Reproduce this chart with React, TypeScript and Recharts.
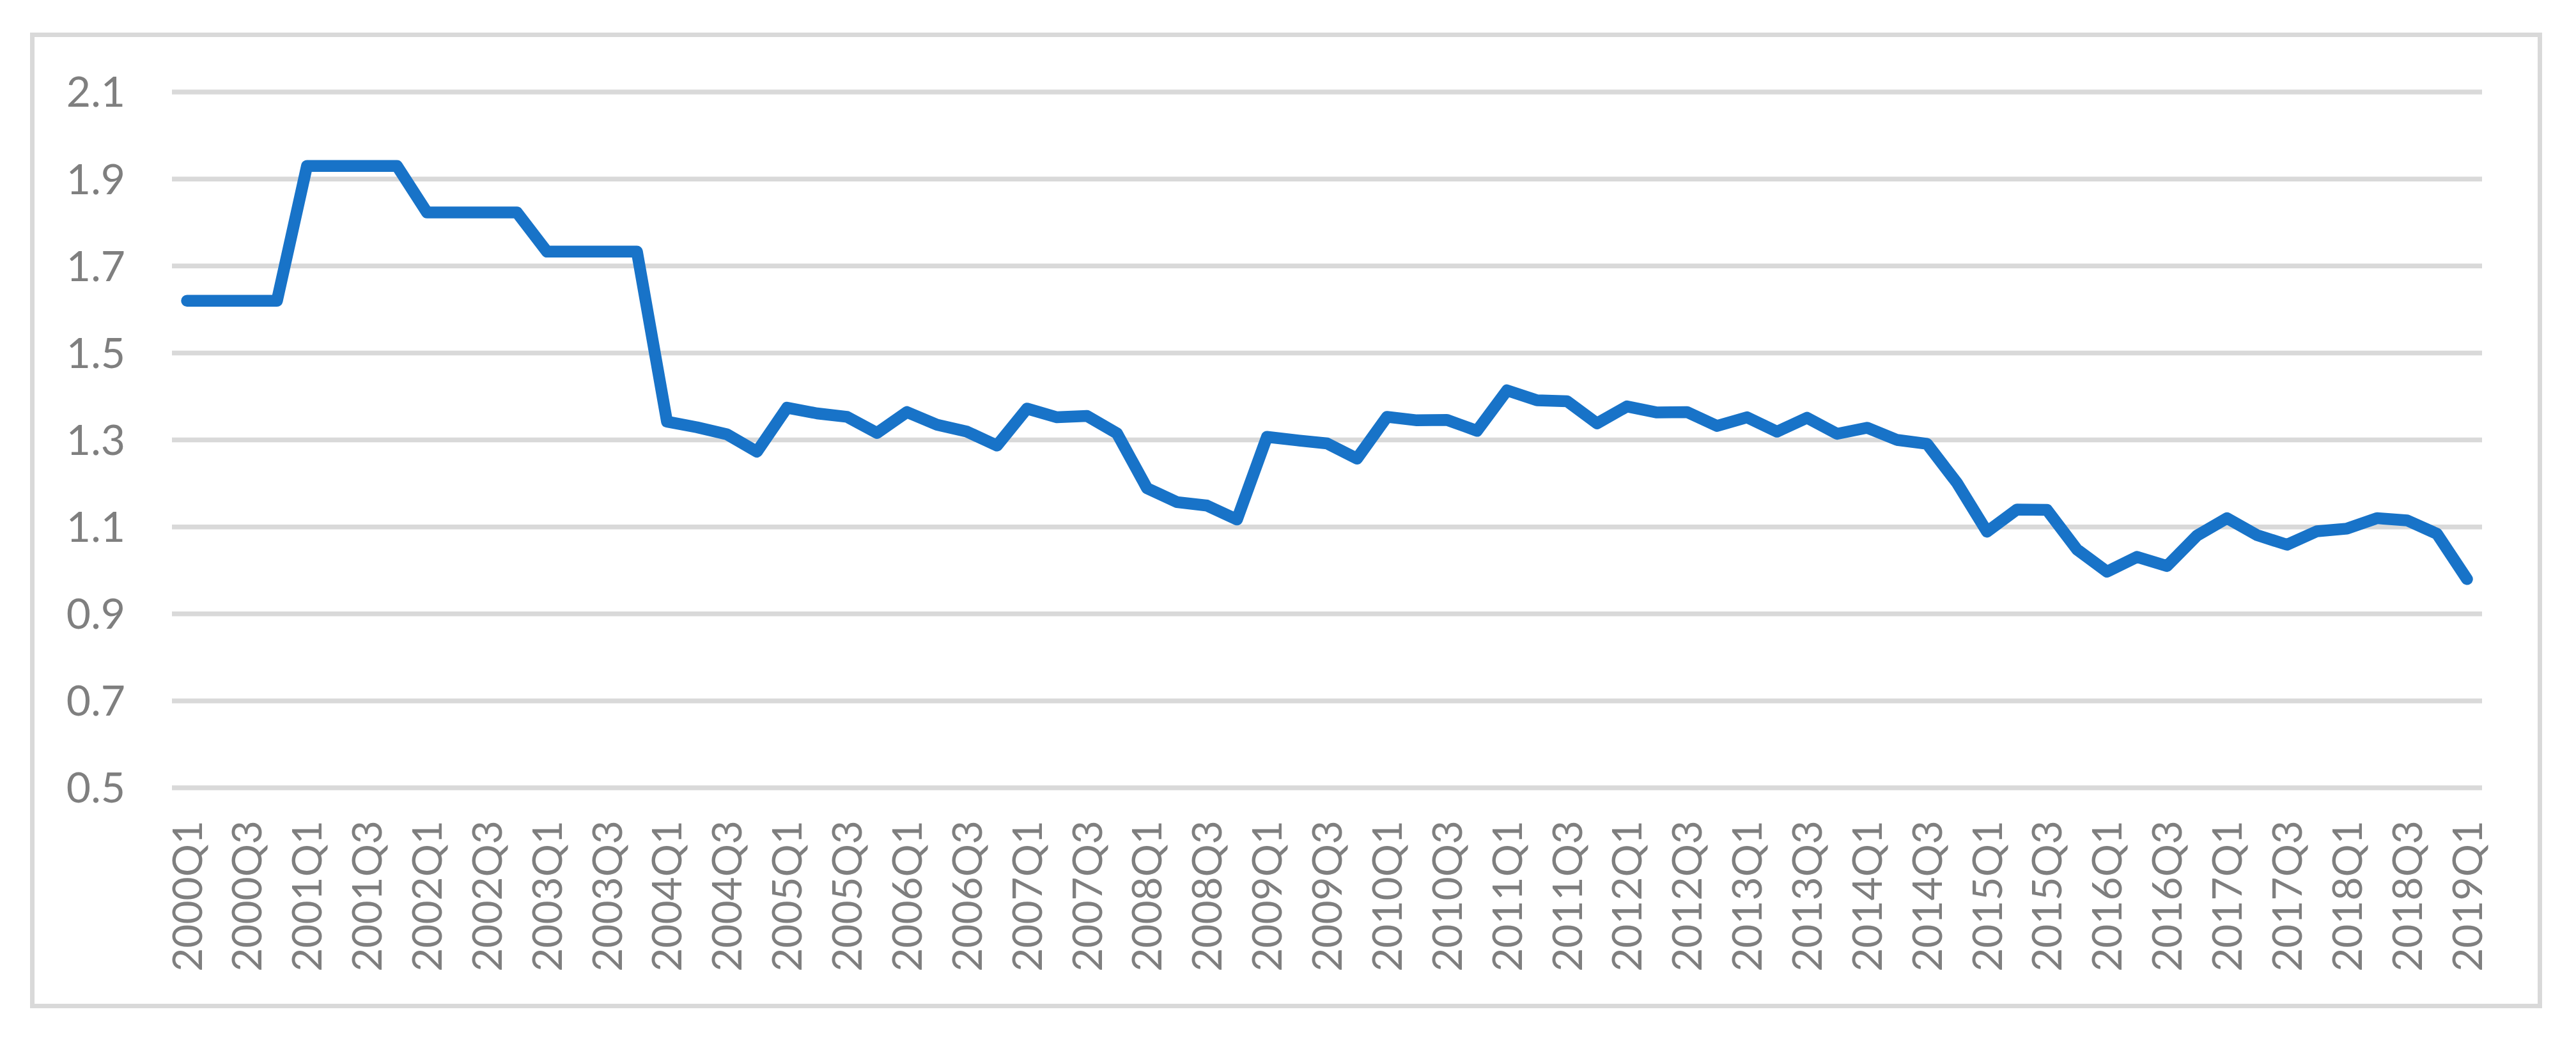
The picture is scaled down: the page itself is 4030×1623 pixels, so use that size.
import React from 'react';
import { LineChart, Line, XAxis, YAxis, CartesianGrid } from 'recharts';

// quarterly categories, 2000Q1 .. 2019Q1
const quarters: string[] = [
  '2000Q1', '2000Q2', '2000Q3', '2000Q4',
  '2001Q1', '2001Q2', '2001Q3', '2001Q4',
  '2002Q1', '2002Q2', '2002Q3', '2002Q4',
  '2003Q1', '2003Q2', '2003Q3', '2003Q4',
  '2004Q1', '2004Q2', '2004Q3', '2004Q4',
  '2005Q1', '2005Q2', '2005Q3', '2005Q4',
  '2006Q1', '2006Q2', '2006Q3', '2006Q4',
  '2007Q1', '2007Q2', '2007Q3', '2007Q4',
  '2008Q1', '2008Q2', '2008Q3', '2008Q4',
  '2009Q1', '2009Q2', '2009Q3', '2009Q4',
  '2010Q1', '2010Q2', '2010Q3', '2010Q4',
  '2011Q1', '2011Q2', '2011Q3', '2011Q4',
  '2012Q1', '2012Q2', '2012Q3', '2012Q4',
  '2013Q1', '2013Q2', '2013Q3', '2013Q4',
  '2014Q1', '2014Q2', '2014Q3', '2014Q4',
  '2015Q1', '2015Q2', '2015Q3', '2015Q4',
  '2016Q1', '2016Q2', '2016Q3', '2016Q4',
  '2017Q1', '2017Q2', '2017Q3', '2017Q4',
  '2018Q1', '2018Q2', '2018Q3', '2018Q4',
  '2019Q1',
];

const values: number[] = [
  1.62, 1.62, 1.62, 1.62,
  1.93, 1.93, 1.93, 1.93,
  1.823, 1.823, 1.823, 1.823,
  1.733, 1.733, 1.733, 1.733,
  1.342, 1.329, 1.313, 1.273,
  1.374, 1.361, 1.353, 1.316,
  1.364, 1.335, 1.319, 1.287,
  1.372, 1.352, 1.355, 1.315,
  1.189, 1.157, 1.149, 1.117,
  1.307, 1.299, 1.292, 1.257,
  1.353, 1.345, 1.346, 1.321,
  1.414, 1.391, 1.389, 1.338,
  1.377, 1.363, 1.364, 1.332,
  1.352, 1.319, 1.351, 1.314,
  1.328, 1.300, 1.291, 1.201,
  1.089, 1.140, 1.139, 1.048,
  0.997, 1.031, 1.010, 1.080,
  1.120, 1.081, 1.059, 1.090,
  1.096, 1.120, 1.115, 1.084,
  0.980,
];

const yTicks = [0.5, 0.7, 0.9, 1.1, 1.3, 1.5, 1.7, 1.9, 2.1];

const data = quarters.map((q, i) => ({ q, v: values[i] }));

const FONT = 'Lato, "Open Sans", sans-serif';
const GREY = '#7F7F7F';

const XTick = (props: any) => {
  const { x, y, payload } = props;
  return (
    <text
      x={x}
      y={y}
      transform={`rotate(-90, ${x}, ${y})`}
      textAnchor="end"
      dy="0.36em"
      fill={GREY}
      fontSize={64}
      fontFamily={FONT}
    >
      {payload.value}
    </text>
  );
};

export default function App() {
  return (
    <div style={{ position: 'absolute', left: 0, top: 0, width: 4030, height: 1623, background: '#fff' }}>
      <div
        style={{
          position: 'absolute',
          left: 47,
          top: 51,
          width: 3930,
          height: 1527,
          border: '7px solid #D9D9D9',
          boxSizing: 'border-box',
        }}
      />
      <div style={{ position: 'absolute', left: 0, top: 0 }}>
        <LineChart
          width={4030}
          height={1623}
          data={data}
          margin={{ top: 144, right: 147, bottom: 0, left: 0 }}
        >
          <CartesianGrid vertical={false} stroke="#D9D9D9" strokeWidth={7.5} />
          <XAxis
            dataKey="q"
            interval={1}
            axisLine={false}
            tickLine={false}
            tickSize={0}
            tickMargin={51}
            height={390}
            padding={{ left: 23.5, right: 23.5 }}
            tick={<XTick />}
          />
          <YAxis
            domain={[0.5, 2.1]}
            ticks={yTicks}
            width={269}
            axisLine={false}
            tickLine={false}
            tickSize={0}
            tickMargin={73}
            tickFormatter={(v: number) => v.toFixed(1)}
            tick={{ fill: GREY, fontSize: 66, fontFamily: FONT }}
          />
          <Line
            type="linear"
            dataKey="v"
            stroke="#1873C8"
            strokeWidth={18.5}
            strokeLinejoin="round"
            strokeLinecap="round"
            dot={false}
            isAnimationActive={false}
          />
        </LineChart>
      </div>
    </div>
  );
}
